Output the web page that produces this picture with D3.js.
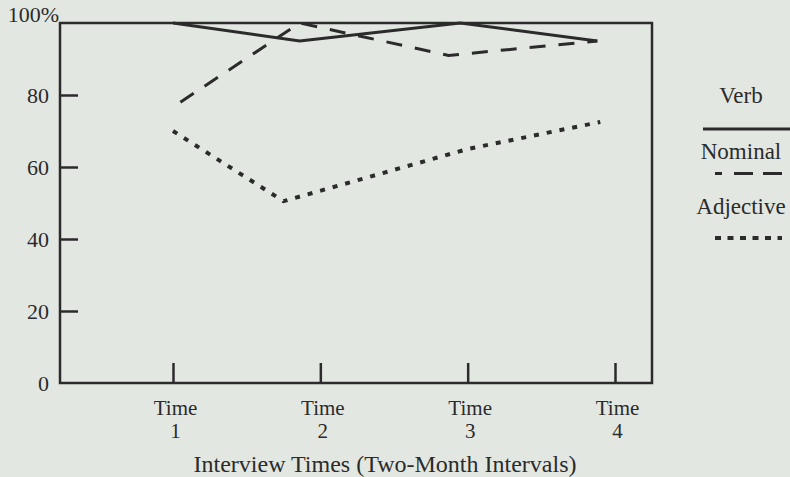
<html>
<head>
    <title>Interview times</title>
    <script type="text/javascript" src="https://cdn.jsdelivr.net/npm/d3@7"></script>
    <style>
        body { margin: 0; background: #e3e7e2; }
        text { font-family: "Liberation Serif", "DejaVu Serif", serif; fill: #2b2b2b; }
    </style>
</head>
<body>
<div id="chart-container"></div>

<script type="text/javascript">

    // Values (percent), with the time position each point sits at
    var yTicks = [0, 20, 40, 60, 80, 100];
    var timeTicks = [1, 2, 3, 4];
    var timeLabels = ["1", "2", "3", "4"];

    var verbTimes = [1, 1.86, 2.95, 3.88];
    var verbValues = [100, 95, 100, 95];

    var nominalTimes = [1.05, 1.86, 2.87, 3.88];
    var nominalValues = [78, 100, 91, 95];

    var adjectiveTimes = [1, 1.75, 3, 3.9];
    var adjectiveValues = [70, 50.5, 65, 72.5];

    var seriesNames = ["Verb", "Nominal", "Adjective"];

    var INK = "#2b2b2b";
    var LEFT = 60, RIGHT = 652, TOP = 23, BOTTOM = 383;

    var canvas = d3.select("#chart-container").append("svg")
        .attr("width", 790)
        .attr("height", 477);

    var x = d3.scaleLinear().domain([1, 4]).range([173, 615]);
    var y = d3.scaleLinear().domain([0, 100]).range([BOTTOM, TOP]);

    // y axis: ticks point inward, no tick mark at 0 and 100
    var yAxis = canvas.append("g")
        .attr("transform", "translate(" + LEFT + ",0)")
        .call(d3.axisLeft(y).tickValues(yTicks).tickSizeInner(-18).tickSizeOuter(0).tickPadding(11)
            .tickFormat(function (d) { return d === 100 ? "100%" : d; }));
    yAxis.select(".domain").remove();
    yAxis.selectAll(".tick line")
        .attr("stroke", INK)
        .attr("stroke-width", 2.5)
        .attr("display", function (d) { return d === 0 || d === 100 ? "none" : null; });
    yAxis.selectAll(".tick text")
        .attr("font-size", 22)
        .attr("font-family", null)
        .attr("fill", INK);
    yAxis.selectAll(".tick text").filter(function (d) { return d === 100; })
        .attr("dx", 10)
        .attr("dy", "-0.05em");

    // x axis: short ticks pointing up, two-line labels
    var xAxis = canvas.append("g")
        .attr("transform", "translate(0," + BOTTOM + ")")
        .call(d3.axisBottom(x).tickValues(timeTicks).tickSizeInner(-20).tickSizeOuter(0));
    xAxis.select(".domain").remove();
    xAxis.selectAll(".tick line").attr("stroke", INK).attr("stroke-width", 2.5);
    xAxis.selectAll(".tick text").remove();
    xAxis.selectAll(".tick").each(function (d, i) {
        var tick = d3.select(this);
        tick.append("text")
            .attr("text-anchor", "middle")
            .attr("font-size", 21)
            .attr("x", 2).attr("y", 32)
            .text("Time");
        tick.append("text")
            .attr("text-anchor", "middle")
            .attr("font-size", 21)
            .attr("x", 2).attr("y", 55)
            .text(timeLabels[i]);
    });

    // frame
    canvas.append("rect")
        .attr("x", LEFT)
        .attr("y", TOP)
        .attr("width", RIGHT - LEFT)
        .attr("height", BOTTOM - TOP)
        .attr("fill", "none")
        .attr("stroke", INK)
        .attr("stroke-width", 2.5);

    canvas.append("text")
        .attr("x", 385)
        .attr("y", 472)
        .attr("text-anchor", "middle")
        .attr("font-size", 24)
        .text("Interview Times (Two-Month Intervals)");

    // lines
    var series = [
        {name: "Verb", times: verbTimes, values: verbValues, dash: null, width: 3},
        {name: "Nominal", times: nominalTimes, values: nominalValues, dash: "16,13", width: 3},
        {name: "Adjective", times: adjectiveTimes, values: adjectiveValues, dash: "5,8", width: 4}
    ];

    var line = d3.line()
        .x(function (d) { return x(d[0]); })
        .y(function (d) { return y(d[1]); });

    canvas.selectAll("path.series")
        .data(series)
        .enter()
        .append("path")
        .attr("class", "series")
        .attr("d", function (s) { return line(d3.zip(s.times, s.values)); })
        .attr("fill", "none")
        .attr("stroke", INK)
        .attr("stroke-width", function (s) { return s.width; })
        .attr("stroke-dasharray", function (s) { return s.dash; });

    // legend on the right
    var legendDash = [null, "7,12,19,10,19,0", "6,6.5"];
    var legendY = [26, 15, 24];

    var legend = canvas.selectAll("g.legend")
        .data(series)
        .enter()
        .append("g")
        .attr("class", "legend")
        .attr("transform", function (s, i) { return "translate(741," + (103 + i * 55.5) + ")"; });

    legend.append("text")
        .attr("text-anchor", "middle")
        .attr("font-size", 23)
        .text(function (s, i) { return seriesNames[i]; });

    legend.append("line")
        .attr("x1", function (s) { return s.dash ? -26 : -38; })
        .attr("x2", function (s) { return s.dash ? 41 : 49; })
        .attr("y1", function (s, i) { return legendY[i]; })
        .attr("y2", function (s, i) { return legendY[i]; })
        .attr("stroke", INK)
        .attr("stroke-width", function (s) { return s.width; })
        .attr("stroke-dasharray", function (s, i) { return legendDash[i]; });

</script>

</body>
</html>
